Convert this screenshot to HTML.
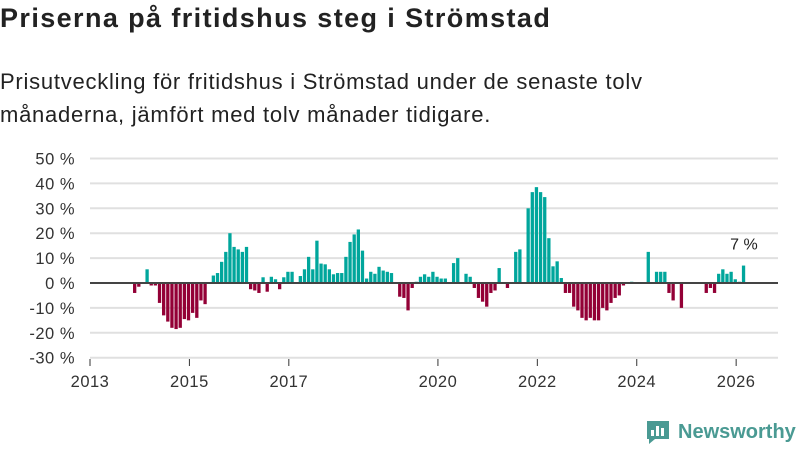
<!DOCTYPE html>
<html><head><meta charset="utf-8">
<style>
body{margin:0;background:#fff;width:800px;height:450px;overflow:hidden;font-family:"Liberation Sans",sans-serif;color:#222}
h1{position:absolute;left:0;top:3px;margin:0;font-size:27px;font-weight:bold;letter-spacing:1.4px}
p{position:absolute;left:0;top:65px;margin:0;font-size:22px;line-height:33px;color:#222;letter-spacing:0.75px}
</style></head><body>
<h1>Priserna på fritidshus steg i Strömstad</h1>
<p>Prisutveckling för fritidshus i Strömstad under de senaste tolv<br>månaderna, jämfört med tolv månader tidigare.</p>
<svg id="chart" width="800" height="450" style="position:absolute;left:0;top:0"></svg>
<script>
const startMonth = 10; // months since Jan 2013
const values = [-4,-1.5,null,5.5,-1,-1,-8,-13,-15.5,-18,-18.5,-18,-14.5,-15,-12,-14,-7,-8.5,null,3,4,8.5,12.5,20,14.5,13.5,12.5,14.5,-2.5,-3,-4,2.3,-3.5,2.5,1.5,-2.5,2.3,4.5,4.5,null,2.8,5.5,10.5,5.5,17,7.8,7.5,5.5,3.5,4,4,10.5,16.5,19.5,21.5,13,1.8,4.5,3.7,6.5,5,4.5,4,null,-5.5,-6,-11,-2,0.5,2.5,3.5,2.5,4.5,2.5,1.8,1.8,null,8,10,null,3.7,2.5,-2,-6,-7.5,-9.5,-4,-3,6,null,-2,null,12.5,13.5,null,30,36.5,38.5,36.5,34.5,18,6.7,8.7,2,-4,-4,-9.5,-11,-14,-15,-14,-15,-15,-10,-11,-8,-6,-5,-1,null,0.5,null,null,null,12.5,null,4.5,4.5,4.5,-4,-7,null,-10,null,null,null,null,null,-4,-2,-4,3.7,5.5,3.7,4.5,1.5,0.5,7];
const yTicks = [50,40,30,20,10,0,-10,-20,-30];
const xTickYears = [2013,2015,2017,2020,2022,2024,2026];
const lastLabel = "7 %";

const NS="http://www.w3.org/2000/svg";
const svg=document.getElementById('chart');
const x0=90,x1=778,pxPerMonth=4.142;
const xScale=m=>x0+m*pxPerMonth;
const yScale=v=>283-v*2.49;
function mk(tag,attrs){const e=document.createElementNS(NS,tag);for(const k in attrs)e.setAttribute(k,attrs[k]);svg.appendChild(e);return e;}
yTicks.forEach(t=>{
  const g=mk('line',{x1:x0,x2:x1,y1:yScale(t),y2:yScale(t),stroke:'#e0e0e0','stroke-width':2});
  
  
  const l=mk('text',{x:75,y:yScale(t)+6,'text-anchor':'end','font-size':16.5,fill:'#333','font-family':'Liberation Sans','letter-spacing':0.5});
  l.textContent=t+' %';
  
  
});
xTickYears.forEach(yr=>{
  const x=xScale((yr-2013)*12);
  const tk=mk('line',{x1:x,x2:x,y1:359,y2:366,stroke:'#333','stroke-width':1});
  
  
  const l=mk('text',{x:x,y:387,'text-anchor':'middle','font-size':16.5,fill:'#333','font-family':'Liberation Sans','letter-spacing':0.5});
  l.textContent=yr;
  
  
});
let lastX=0,lastV=0;
values.forEach((v,i)=>{
  if(v===null)return;
  const x=xScale(startMonth+i)+1.6;
  const y=v>=0?yScale(v):yScale(0);
  const r=mk('rect',{x:x,y:y,width:3.3,height:Math.abs(yScale(v)-yScale(0)),fill:v>=0?'#00a69c':'#930036'});
  
  
  lastX=x;lastV=v;
});
const z=mk('line',{x1:x0,x2:x1,y1:yScale(0),y2:yScale(0),stroke:'#444','stroke-width':2});


const ll=mk('text',{x:lastX+2,y:yScale(lastV)-16,'text-anchor':'middle','font-size':16,fill:'#222','font-family':'Liberation Sans'});
ll.textContent=lastLabel;


</script>
<div style="position:absolute;left:645px;top:419px;display:flex;align-items:center">
<svg width="26" height="26" viewBox="0 0 26 26"><path d="M2 2h22v18H10l-6 5v-5H2z" fill="#4a9a93"/><rect x="6" y="11" width="3" height="6" fill="#fff"/><rect x="11" y="7" width="3" height="10" fill="#fff"/><rect x="16" y="9" width="3" height="8" fill="#fff"/></svg>
<span style="margin-left:7px;font-size:20px;font-weight:bold;color:#4a9a93">Newsworthy</span>
</div>
</body></html>
